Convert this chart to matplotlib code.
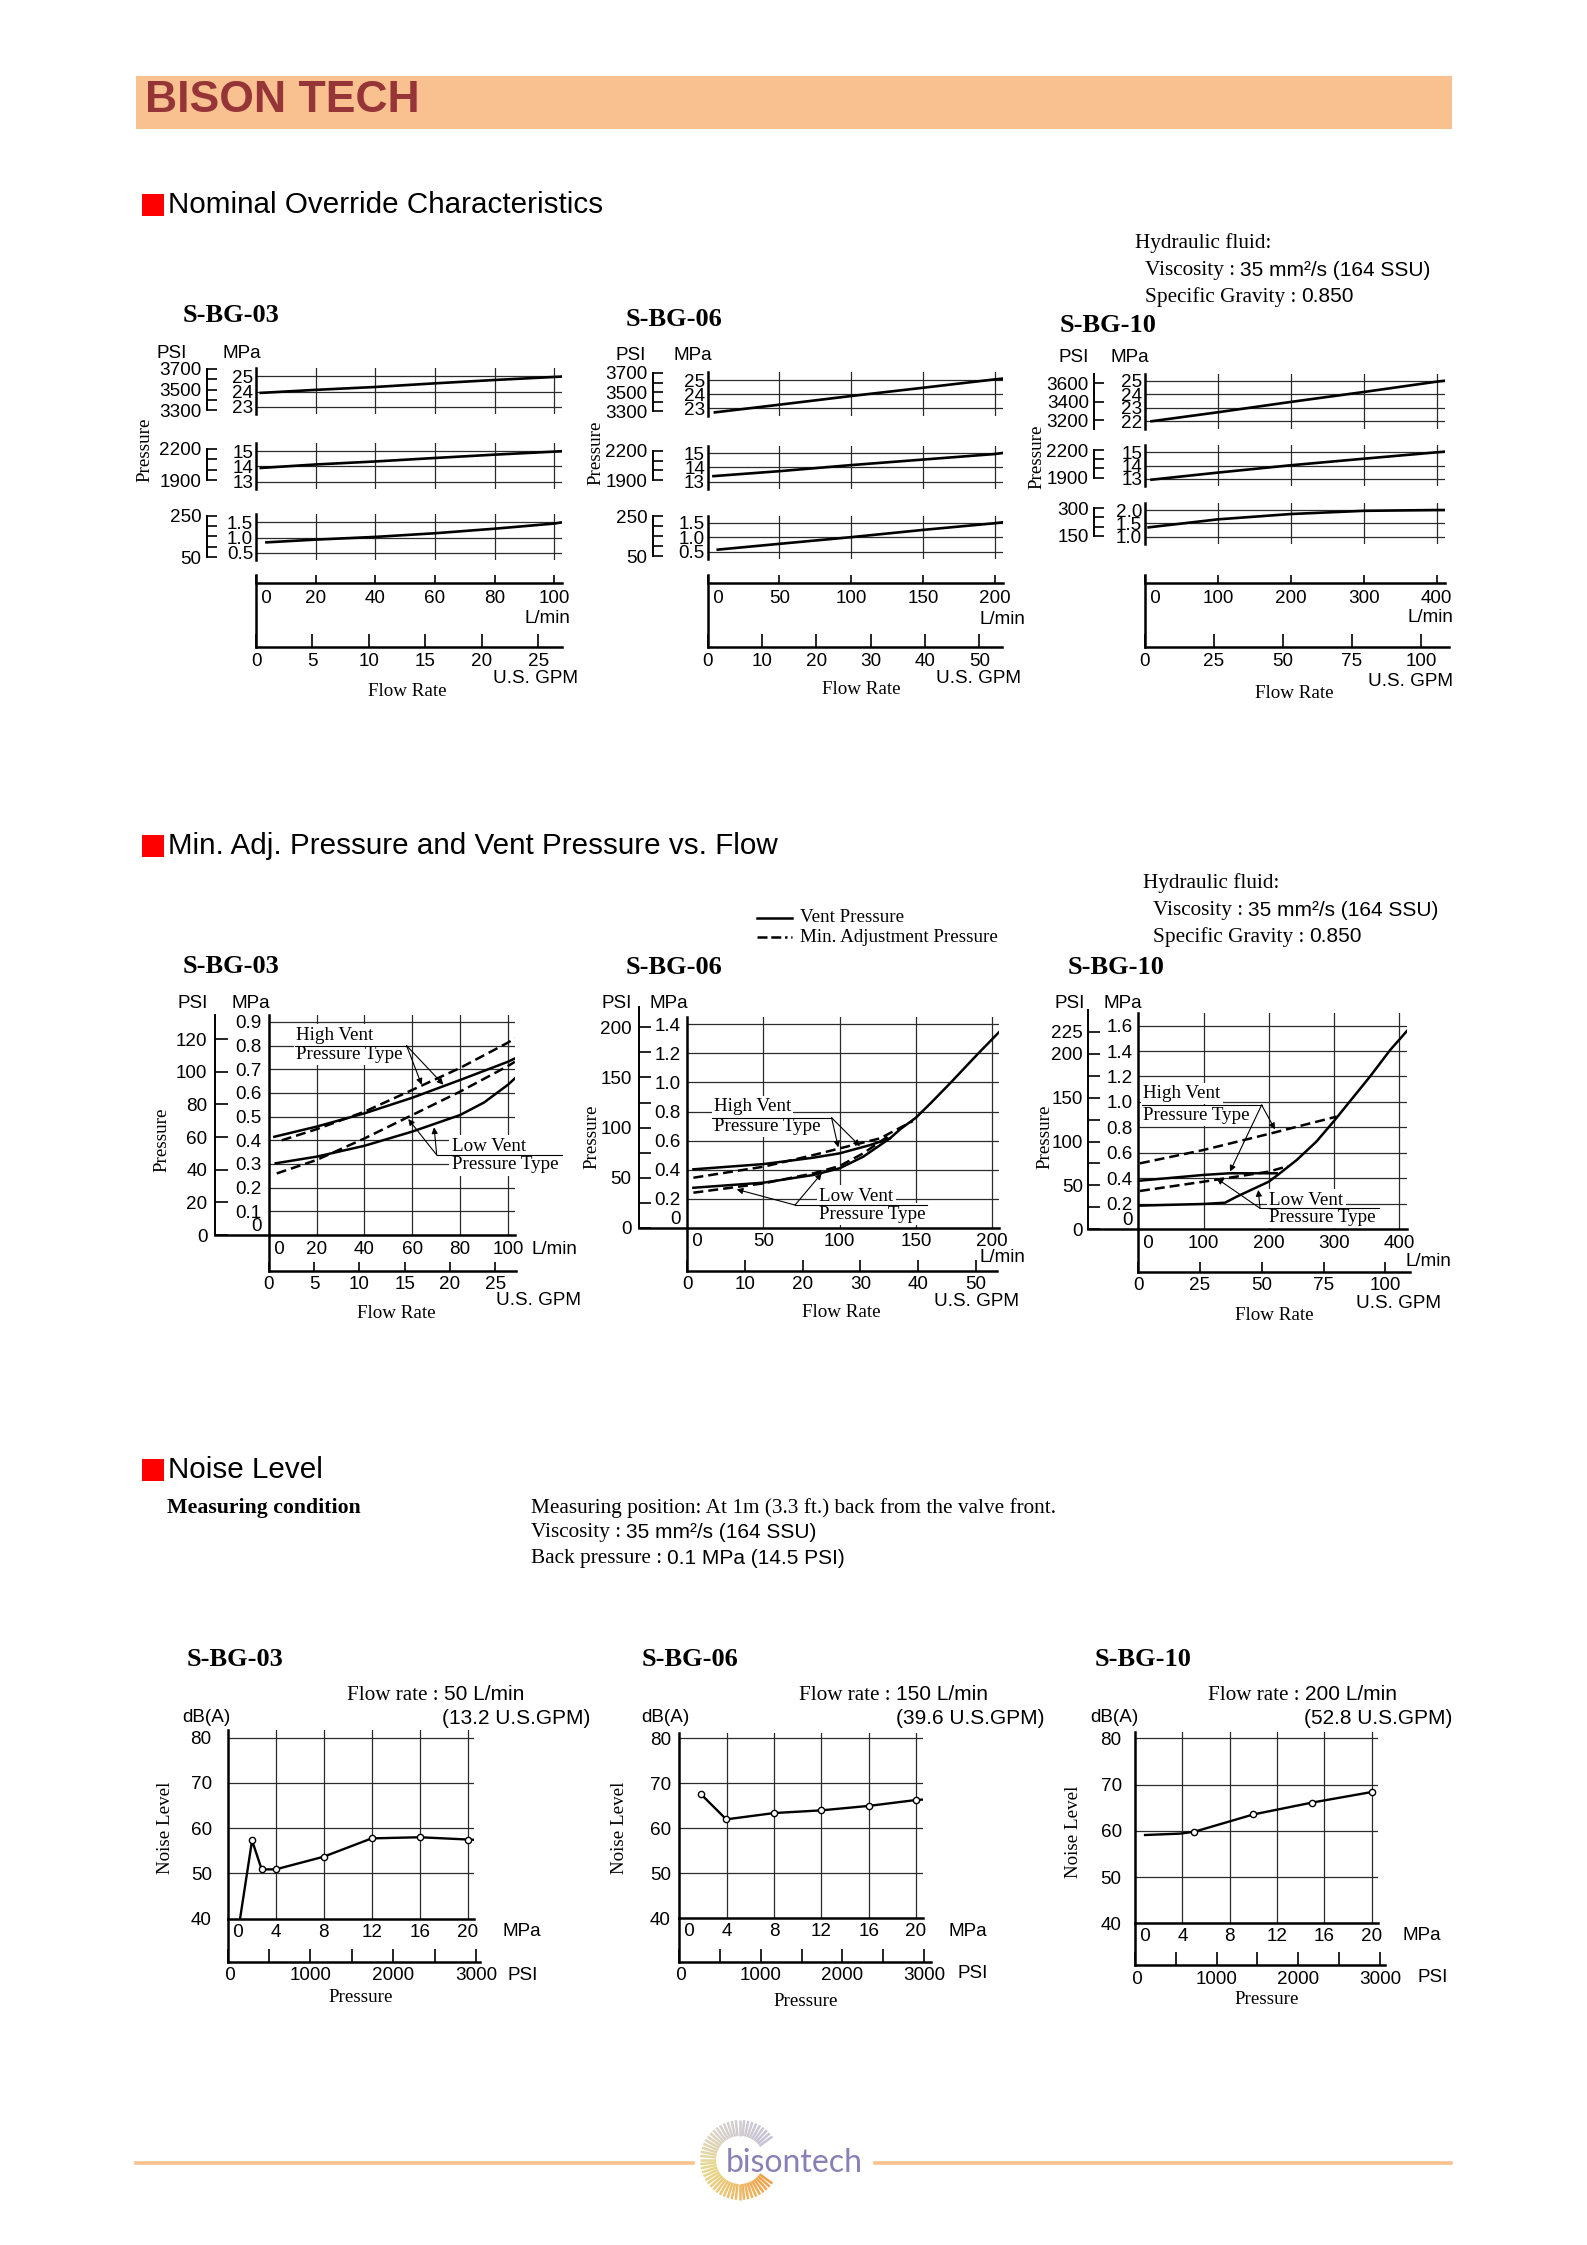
import numpy as np
import matplotlib
matplotlib.use('Agg')
import matplotlib.pyplot as plt
from matplotlib.patches import Rectangle
from matplotlib.lines import Line2D
from matplotlib.collections import LineCollection

SANS = ['Liberation Sans', 'DejaVu Sans']
SERIF = ['Liberation Serif', 'DejaVu Serif']
plt.rcParams['font.family'] = SANS

PSI_PER_MPA = 145.038
L_PER_GAL = 3.78541
GRID = '#2b2b2b'
PEACH = '#F9C190'
LAB = 13.6   # tick label size

# ---------------- data ----------------
# Nominal override characteristics: flow rate (L/min) -> pressure (MPa)
ov03_q_hi = [1.6, 20, 40, 60, 80, 100, 104]
ov03_p_hi = [23.91, 24.11, 24.30, 24.54, 24.76, 24.96, 25.00]
ov03_q_md = [1.6, 20, 40, 60, 80, 100, 104]
ov03_p_md = [13.90, 14.13, 14.33, 14.56, 14.78, 14.98, 15.02]
ov03_q_lo = [3.5, 20, 40, 60, 80, 100, 104]
ov03_p_lo = [0.84, 0.93, 1.02, 1.14, 1.29, 1.46, 1.52]

ov06_q_hi = [5, 50, 100, 150, 200, 205]
ov06_p_hi = [22.69, 23.24, 23.86, 24.45, 25.05, 25.10]
ov06_q_md = [4, 50, 100, 150, 200, 205]
ov06_p_md = [13.39, 13.74, 14.17, 14.56, 14.95, 15.02]
ov06_q_lo = [7, 50, 100, 150, 200, 205]
ov06_p_lo = [0.57, 0.77, 1.00, 1.25, 1.48, 1.51]

ov10_q_hi = [9, 100, 200, 300, 400, 411]
ov10_p_hi = [22.00, 22.67, 23.44, 24.18, 24.95, 25.02]
ov10_q_md = [9, 100, 200, 300, 400, 411]
ov10_p_md = [12.95, 13.48, 14.03, 14.52, 15.00, 15.05]
ov10_q_lo = [5, 100, 200, 300, 400, 411]
ov10_p_lo = [1.35, 1.65, 1.85, 1.97, 2.00, 2.00]

# Min. adj. pressure and vent pressure vs flow (L/min -> MPa)
v03_q_hv = [2.3, 20, 40, 60, 80, 100, 102.9]
v03_p_hv = [0.415, 0.458, 0.514, 0.580, 0.655, 0.732, 0.746]
v03_q_hm = [5.4, 20, 40, 60, 80, 100, 102.9]
v03_p_hm = [0.400, 0.447, 0.521, 0.613, 0.706, 0.813, 0.831]
v03_q_lv = [2.9, 20, 40, 60, 80, 90, 100, 102.9]
v03_p_lv = [0.303, 0.331, 0.377, 0.437, 0.507, 0.560, 0.635, 0.662]
v03_q_lm = [3.3, 20, 40, 60, 80, 100, 102.9]
v03_p_lm = [0.260, 0.317, 0.408, 0.507, 0.606, 0.714, 0.732]

v06_q_hv = [4, 50, 82.7, 100, 120, 133, 140, 150, 160, 173, 191, 207]
v06_p_hv = [0.402, 0.438, 0.482, 0.512, 0.569, 0.615, 0.680, 0.757, 0.860, 1.000, 1.200, 1.372]
v06_q_lv = [4, 50, 82.7, 100, 115.5, 133]
v06_p_lv = [0.275, 0.310, 0.363, 0.409, 0.489, 0.615]
v06_q_hm = [4, 50, 82.7, 100, 126.5, 148]
v06_p_hm = [0.344, 0.420, 0.500, 0.546, 0.615, 0.734]
v06_q_lm = [4, 50, 82.7, 100, 115.5, 133]
v06_p_lm = [0.241, 0.305, 0.374, 0.425, 0.512, 0.638]

v10_q_lv = [2.5, 100, 133, 151, 200, 217, 243, 273, 300, 324, 355, 386, 414]
v10_p_lv = [0.186, 0.199, 0.209, 0.257, 0.374, 0.440, 0.545, 0.689, 0.851, 1.003, 1.199, 1.408, 1.571]
v10_q_hv = [2.5, 100, 140, 212]
v10_p_hv = [0.382, 0.427, 0.440, 0.440]
v10_q_hm = [2.5, 100, 200, 304]
v10_p_hm = [0.518, 0.623, 0.749, 0.885]
v10_q_lm = [2.5, 100, 200, 230]
v10_p_lm = [0.301, 0.374, 0.453, 0.497]

# Noise level: pressure (MPa) -> dB(A); mark = 1 where a measuring point is drawn
n03_p = [1.03, 2.03, 2.83, 4.0, 8.0, 12.0, 16.0, 20.0, 20.5]
n03_db = [40.0, 57.3, 50.9, 50.9, 53.7, 57.75, 58.0, 57.5, 57.45]
n03_mark = [0, 1, 1, 1, 1, 1, 1, 1, 0]
n06_p = [1.83, 3.97, 8.0, 12.0, 16.03, 20.0, 20.6]
n06_db = [67.6, 62.0, 63.4, 64.0, 65.0, 66.3, 66.4]
n06_mark = [1, 1, 1, 1, 1, 1, 0]
n10_p = [0.85, 3.8, 5.0, 10.0, 14.93, 20.0]
n10_db = [59.1, 59.4, 59.8, 63.55, 66.1, 68.4]
n10_mark = [0, 0, 1, 1, 1, 1]

# ---------------- page ----------------
W, H = 1587, 2245
fig = plt.figure(figsize=(W / 100, H / 100), dpi=100)


def box(x0, y0, x1, y1):
    # axes placed in page pixels, y measured from the top
    return fig.add_axes([x0 / W, 1 - y1 / H, (x1 - x0) / W, (y1 - y0) / H])


def bare(ax, keep=(), lw=1.8):
    for name, sp in ax.spines.items():
        sp.set_visible(name in keep)
        sp.set_linewidth(lw)
    ax.patch.set_alpha(0)


def txt(x, y, s, **kw):
    kw.setdefault('va', 'center')
    kw.setdefault('size', LAB)
    return fig.text(x / W, 1 - y / H, s, **kw)


def mixed(x, y, parts):
    r = fig.canvas.get_renderer()
    for s, fam, size in parts:
        t = txt(x, y, s, family=fam, size=size)
        x += t.get_window_extent(r).width + 5


def section(y, label):
    fig.add_artist(Rectangle((142 / W, 1 - (y + 11) / H), 22 / W, 22 / H,
                             transform=fig.transFigure, color='#FF0000', lw=0))
    txt(168, y, label, size=21.3)


def zero_first(labels):
    # the first label sits just right of the vertical axis line
    return [' ' + labels[0]] + labels[1:]


def psi_scale(x, top, bot, mpa_lo, mpa_hi, ticks, labels, tlen, pad, bracket=False):
    pa = box(x, top, x + 1, bot)
    bare(pa, ['left'], lw=1.4)
    pa.set_xticks([])
    pa.set_ylim(mpa_lo * PSI_PER_MPA, mpa_hi * PSI_PER_MPA)
    pa.set_yticks(ticks, labels)
    pa.tick_params(axis='y', direction='in', length=tlen * 0.72, width=1.2,
                   pad=pad, labelsize=LAB)
    if bracket:
        pa.spines['left'].set_bounds(min(ticks), max(ticks))


def override_chart(title, title_xy, units, psi_x, x0, x_full, x_end, g_end,
                   qtick, gticks, panels, pres_xy, flow_xy, lmin_xy, gpm_xy):
    pxq = (x_full - x0) / qtick[-1]
    txt(*title_xy, title, family=SERIF, weight='bold', size=19)
    txt(units[0], units[2], 'PSI', ha='center')
    txt(units[1], units[2], 'MPa', ha='center')
    for top, bot, lo, hi, mt, ml, pt, pl, brk, q, p in panels:
        ax = box(x0, top, x_end, bot)
        bare(ax, ['left'])
        ax.set_xlim(0, (x_end - x0) / pxq)
        ax.set_ylim(lo, hi)
        ax.set_xticks([])
        ax.set_yticks(mt, ml)
        ax.tick_params(axis='y', length=0, pad=2, labelsize=LAB)
        for m in mt:
            ax.axhline(m, color=GRID, lw=0.9, zorder=1)
        for v in qtick[1:]:
            ax.axvline(v, color=GRID, lw=0.9, zorder=1)
        ax.plot(q, p, color='k', lw=1.9, zorder=3)
        psi_scale(psi_x, top, bot, lo, hi, pt, pl, 10, 4, brk)
    al = box(x0, 575, x_end, 582.7)
    bare(al, ['bottom'])
    al.set_xlim(0, (x_end - x0) / pxq)
    al.set_yticks([])
    al.set_xticks(qtick, zero_first([str(v) for v in qtick]))
    al.tick_params(axis='x', direction='in', length=5.5, width=1.2, pad=5, labelsize=LAB)
    al.get_xticklabels()[0].set_ha('left')
    ag = box(x0, 575, g_end, 647)
    bare(ag, ['left', 'bottom'])
    ag.set_xlim(0, (g_end - x0) / pxq / L_PER_GAL)
    ag.set_yticks([])
    ag.set_xticks(gticks, [str(v) for v in gticks])
    ag.tick_params(axis='x', direction='in', length=9.5, width=1.2, pad=4, labelsize=LAB)
    txt(*pres_xy, 'Pressure', family=SERIF, size=13.7, rotation=90, ha='center')
    txt(*flow_xy, 'Flow Rate', family=SERIF, size=13.7, ha='center')
    txt(*lmin_xy, 'L/min', ha='right')
    txt(*gpm_xy, 'U.S. GPM', ha='right')


def callout(ax, tx, ty, lines, ux, uy, origin, targets):
    for s, y in zip(lines, ty):
        ax.text(tx, y, s, family=SERIF, size=13.7, va='center', zorder=4,
                bbox=dict(fc='white', ec='none', pad=1.5))
    ax.plot(ux, [uy, uy], color='k', lw=0.8, clip_on=False, zorder=5)
    for xt, yt in targets:
        ax.annotate('', xy=(xt, yt), xytext=origin, zorder=5,
                    arrowprops=dict(arrowstyle='-|>', color='k', lw=0.8,
                                    mutation_scale=9, shrinkA=0, shrinkB=0))


def vent_chart(title, title_xy, units, psi_x, psi_top, x0, x_full, x_end, y_top, y_axis,
               mpa_top, mt, ml, mpad, pt, pl, ppad, plen, qtick, g_end, g_y, g_len,
               gticks, curves, calls, lmin, gpm_xy, pres_xy, flow_xy):
    pxq = (x_full - x0) / qtick[-1]
    txt(*title_xy, title, family=SERIF, weight='bold', size=19)
    txt(units[0], units[2], 'PSI', ha='center')
    txt(units[1], units[2], 'MPa', ha='center')
    ax = box(x0, y_top, x_end, y_axis)
    bare(ax, ['left', 'bottom'])
    ax.set_xlim(0, (x_end - x0) / pxq)
    ax.set_ylim(0, mpa_top)
    ax.set_xticks(qtick, zero_first([str(v) for v in qtick]))
    ax.set_yticks(mt, ml)
    ax.tick_params(length=0, labelsize=LAB)
    ax.tick_params(axis='x', pad=4)
    ax.tick_params(axis='y', pad=mpad)
    ax.get_xticklabels()[0].set_ha('left')
    ax.get_yticklabels()[0].set_va('bottom')
    for m in mt[1:]:
        ax.axhline(m, color=GRID, lw=0.9, zorder=1)
    for v in qtick[1:]:
        ax.axvline(v, color=GRID, lw=0.9, zorder=1)
    ax.plot([(psi_x - x0) / (x_end - x0), 0], [0, 0], transform=ax.transAxes,
            color='k', lw=1.8, clip_on=False)
    for q, p, dashed in curves:
        ax.plot(q, p, color='k', lw=1.8, ls=(0, (4, 2)) if dashed else '-', zorder=3)
    for c in calls:
        callout(ax, *c)
    psi_scale(psi_x, psi_top, y_axis, 0, mpa_top * (y_axis - psi_top) / (y_axis - y_top),
              pt, pl, plen, ppad)
    ag = box(x0, y_axis, g_end, g_y)
    bare(ag, ['left', 'bottom'])
    ag.set_xlim(0, (g_end - x0) / pxq / L_PER_GAL)
    ag.set_yticks([])
    ag.set_xticks(gticks, [str(v) for v in gticks])
    ag.tick_params(axis='x', direction='in', length=g_len * 0.72, width=1.2, pad=3.5,
                   labelsize=LAB)
    txt(lmin[0], lmin[1], 'L/min', ha=lmin[2])
    txt(*gpm_xy, 'U.S. GPM', ha='right')
    txt(*pres_xy, 'Pressure', family=SERIF, size=13.7, rotation=90, ha='center')
    txt(*flow_xy, 'Flow Rate', family=SERIF, size=13.7, ha='center')


def noise_chart(title, title_xy, flow_xy, flow_val, gpm_txt, gpm_right, db_xy, x0, x_full,
                x_end, y_top, y_axis, db_top, dbpad, psi_end, psi_y, mpa_xy, psi_xy,
                nl_xy, pres_xy, p, db, mark):
    pxm = (x_full - x0) / 20
    txt(*title_xy, title, family=SERIF, weight='bold', size=19)
    mixed(flow_xy[0], flow_xy[1], [('Flow rate :', SERIF, 15.2), (flow_val, SANS, 15)])
    txt(gpm_right, flow_xy[1] + 23, gpm_txt, size=15, ha='right')
    txt(*db_xy, 'dB(A)', ha='center')
    ax = box(x0, y_top, x_end, y_axis)
    bare(ax, ['left', 'bottom'])
    ax.set_xlim(0, (x_end - x0) / pxm)
    ax.set_ylim(40, db_top)
    ax.set_xticks([0, 4, 8, 12, 16, 20], zero_first(['0', '4', '8', '12', '16', '20']))
    ax.set_yticks([40, 50, 60, 70, 80], ['40', '50', '60', '70', '80'])
    ax.tick_params(length=0, labelsize=LAB)
    ax.tick_params(axis='x', pad=3.5)
    ax.tick_params(axis='y', pad=dbpad)
    ax.get_xticklabels()[0].set_ha('left')
    for m in [50, 60, 70, 80]:
        ax.axhline(m, color=GRID, lw=0.9, zorder=1)
    for v in [4, 8, 12, 16, 20]:
        ax.axvline(v, color=GRID, lw=0.9, zorder=1)
    ax.plot(p, db, color='k', lw=1.7, zorder=3)
    mp = [v for v, m in zip(p, mark) if m]
    md = [v for v, m in zip(db, mark) if m]
    ax.plot(mp, md, 'o', ms=4.5, mfc='white', mec='k', mew=1, zorder=4)
    ag = box(x0, y_axis, psi_end, psi_y)
    bare(ag, ['left', 'bottom'])
    ag.set_xlim(0, (psi_end - x0) / pxm * PSI_PER_MPA)
    ag.set_yticks([])
    ag.set_xticks(range(0, 3001, 500), [' 0', '', '1000', '', '2000', '', '3000'])
    ag.tick_params(axis='x', direction='in', length=9.5, width=1.2, pad=4, labelsize=LAB)
    txt(*mpa_xy, 'MPa', ha='center')
    txt(*psi_xy, 'PSI', ha='center')
    txt(*nl_xy, 'Noise Level', family=SERIF, size=13.7, rotation=90, ha='center')
    txt(*pres_xy, 'Pressure', family=SERIF, size=13.7, ha='center')


def fluid_block(x, y):
    txt(x, y, 'Hydraulic fluid:', family=SERIF, size=15.3)
    mixed(x + 10, y + 27, [('Viscosity :', SERIF, 15.3), ('35 mm\u00b2/s (164 SSU)', SANS, 15)])
    mixed(x + 10, y + 54, [('Specific Gravity :', SERIF, 15.3), ('0.850', SANS, 15)])


# header band
fig.add_artist(Rectangle((136 / W, 1 - 129 / H), (1452 - 136) / W, 53 / H,
                         transform=fig.transFigure, color=PEACH, lw=0))
txt(145, 100, 'BISON TECH', size=32, weight='bold', color='#963537')

# ---------------- Nominal override characteristics ----------------
section(205, 'Nominal Override Characteristics')
fluid_block(1135, 243)

P3 = ([3300, 3400, 3500, 3600, 3700], ['3300', '', '3500', '', '3700'])
P2 = ([1900, 2000, 2100, 2200], ['1900', '', '', '2200'])
P1 = ([50, 100, 150, 200, 250], ['50', '', '', '', '250'])
M_HI = ([23, 24, 25], ['23', '24', '25'])
M_MD = ([13, 14, 15], ['13', '14', '15'])
M_LO = ([0.5, 1.0, 1.5], ['0.5', '1.0', '1.5'])

override_chart('S-BG-03', (183, 315), (172, 242, 353), 207, 256, 554.3, 562.3, 562.3,
               [0, 20, 40, 60, 80, 100], [0, 5, 10, 15, 20, 25],
               [(368.3, 414, 22.52, 25.53, *M_HI, *P3, True, ov03_q_hi, ov03_p_hi),
                (443.3, 489.3, 12.49, 15.53, *M_MD, *P2, True, ov03_q_md, ov03_p_md),
                (514, 560, 0.258, 1.775, *M_LO, *P1, True, ov03_q_lo, ov03_p_lo)],
               (145, 450), (407, 691), (570.7, 619), (578.3, 678.3))

override_chart('S-BG-06', (626, 319), (630.5, 693.3, 355.7), 652.7, 707.7, 994.7, 1002.7, 1001.7,
               [0, 50, 100, 150, 200], [0, 10, 20, 30, 40, 50],
               [(371.7, 416, 22.43, 25.6, *M_HI, *P3, True, ov06_q_hi, ov06_p_hi),
                (445.7, 489, 12.48, 15.54, *M_MD, *P2, True, ov06_q_md, ov06_p_md),
                (515.7, 559, 0.247, 1.74, *M_LO, *P1, True, ov06_q_lo, ov06_p_lo)],
               (596, 453), (861, 690), (1025, 619.3), (1020.7, 678.3))

override_chart('S-BG-10', (1060, 326), (1073.8, 1129.5, 357.3), 1094.3, 1145, 1436.7, 1445, 1449.3,
               [0, 100, 200, 300, 400], [0, 25, 50, 75, 100],
               [(374, 429.3, 21.40, 25.52, [22, 23, 24, 25], ['22', '23', '24', '25'],
                 [3200, 3400, 3600], ['3200', '3400', '3600'], False, ov10_q_hi, ov10_p_hi),
                (445.3, 486, 12.475, 15.525, *M_MD, *P2, True, ov10_q_md, ov10_p_md),
                (502.7, 544, 0.725, 2.275, [1.0, 1.5, 2.0], ['1.0', '1.5', '2.0'],
                 [150, 200, 250, 300], ['150', '', '', '300'], True, ov10_q_lo, ov10_p_lo)],
               (1037, 457), (1294, 693), (1453, 617), (1452.7, 682))

# ---------------- Min. adj. pressure and vent pressure ----------------
section(846, 'Min. Adj. Pressure and Vent Pressure vs. Flow')
fluid_block(1143, 883)
fig.add_artist(Line2D([757 / W, 792 / W], [1 - 918 / H] * 2, transform=fig.transFigure,
                      color='k', lw=1.8))
fig.add_artist(Line2D([757 / W, 792 / W], [1 - 937 / H] * 2, transform=fig.transFigure,
                      color='k', lw=1.8, ls=(0, (4, 1.5, 4, 1.5, 1, 1.5))))
txt(800, 918, 'Vent Pressure', family=SERIF, size=13.7)
txt(800, 937, 'Min. Adjustment Pressure', family=SERIF, size=13.7)

HV = ('High Vent', 'Pressure Type')
LV = ('Low Vent', 'Pressure Type')

vent_chart('S-BG-03', (183, 966.5), (193, 250.7, 1003), 215, 1015, 268.8, 508, 515, 1015, 1235,
           0.9295, [0, 0.1, 0.2, 0.3, 0.4, 0.5, 0.6, 0.7, 0.8, 0.9],
           ['0', '0.1', '0.2', '0.3', '0.4', '0.5', '0.6', '0.7', '0.8', '0.9'], 5,
           [0, 20, 40, 60, 80, 100, 120], ['0', '20', '40', '60', '80', '100', '120'], 5.5, 13,
           [0, 20, 40, 60, 80, 100], 516, 1270.7, 9, [0, 5, 10, 15, 20, 25],
           [(v03_q_hv, v03_p_hv, False), (v03_q_hm, v03_p_hm, True),
            (v03_q_lv, v03_p_lv, False), (v03_q_lm, v03_p_lm, True)],
           [(11.4, (0.845, 0.761), HV, [10.9, 57.6], 0.80, (57.6, 0.80),
             [(63.9, 0.635), (73.0, 0.635)]),
            (76.4, (0.376, 0.296), LV, [70.2, 122.4], 0.338, (70.2, 0.338),
             [(58.3, 0.49), (69.1, 0.455)])],
           (531.7, 1249, 'left'), (580.7, 1300.7), (162, 1140), (396.7, 1314))

vent_chart('S-BG-06', (626, 967.5), (616.7, 669.3, 1003), 639.3, 1006.7, 687.3, 992, 999.3,
           1016.7, 1227.7, 1.4528, [0, 0.2, 0.4, 0.6, 0.8, 1.0, 1.2, 1.4],
           ['0', '0.2', '0.4', '0.6', '0.8', '1.0', '1.2', '1.4'], 4.7,
           list(range(0, 201, 25)), ['0', '', '50', '', '100', '', '150', '', '200'], 5.5, 12.3,
           [0, 50, 100, 150, 200], 997.3, 1270.7, 10.7, [0, 10, 20, 30, 40, 50],
           [(v06_q_hv, v06_p_hv, False), (v06_q_lv, v06_p_lv, False),
            (v06_q_hm, v06_p_hm, True), (v06_q_lm, v06_p_lm, True)],
           [(17.5, (0.833, 0.695), HV, [16.4, 94.7], 0.757, (94.7, 0.757),
             [(99.1, 0.553), (113.3, 0.562)]),
            (86.7, (0.218, 0.094), LV, [70.7, 157.1], 0.156, (70.7, 0.156),
             [(32.4, 0.264), (88.2, 0.374)])],
           (1025, 1257.7, 'right'), (1019.3, 1301.7), (592, 1137), (841.7, 1312.7))

vent_chart('S-BG-10', (1068, 967), (1069.3, 1122.7, 1003), 1088.3, 1010, 1138.3, 1399.3, 1406.7,
           1012.7, 1229.3, 1.701, [0, 0.2, 0.4, 0.6, 0.8, 1.0, 1.2, 1.4, 1.6],
           ['0', '0.2', '0.4', '0.6', '0.8', '1.0', '1.2', '1.4', '1.6'], 4,
           list(range(0, 226, 25)), ['0', '', '50', '', '100', '', '150', '', '200', '225'], 4, 11.7,
           [0, 100, 200, 300, 400], 1410, 1271.7, 10, [0, 25, 50, 75, 100],
           [(v10_q_lv, v10_p_lv, False), (v10_q_hv, v10_p_hv, False),
            (v10_q_hm, v10_p_hm, True), (v10_q_lm, v10_p_lm, True)],
           [(7.7, (1.068, 0.893), HV, [5.1, 189], 0.976, (189, 0.976),
             [(140.5, 0.453), (209.4, 0.785)]),
            (200.8, (0.230, 0.094), LV, [186.5, 369.3], 0.165, (186.5, 0.165),
             [(120, 0.40), (183.9, 0.309)])],
           (1451.7, 1261.7, 'right'), (1441, 1303), (1045, 1137), (1274.3, 1315))

# ---------------- Noise level ----------------
section(1470, 'Noise Level')
txt(167, 1508, 'Measuring condition', family=SERIF, weight='bold', size=15.7)
txt(531, 1508, 'Measuring position: At 1m (3.3 ft.) back from the valve front.',
    family=SERIF, size=15.3)
mixed(531, 1533, [('Viscosity :', SERIF, 15.3), ('35 mm\u00b2/s (164 SSU)', SANS, 15)])
mixed(531, 1558, [('Back pressure :', SERIF, 15.3), ('0.1 MPa (14.5 PSI)', SANS, 15)])

noise_chart('S-BG-03', (187, 1660), (347, 1695), '50 L/min', '(13.2 U.S.GPM)', 590, (206, 1717),
            227.7, 467.7, 474, 1730, 1918.7, 81.7, 11.5, 480, 1961.7,
            (522, 1931.7), (523, 1975), (165, 1828), (361, 1998), n03_p, n03_db, n03_mark)
noise_chart('S-BG-06', (642, 1660), (799, 1695), '150 L/min', '(39.6 U.S.GPM)', 1044, (665, 1717),
            679.3, 916, 923.3, 1733, 1918.3, 81.2, 6, 931, 1961.7,
            (968.3, 1931.7), (973, 1973), (620, 1828), (806, 2001), n06_p, n06_db, n06_mark)
noise_chart('S-BG-10', (1095, 1660), (1208, 1695), '200 L/min', '(52.8 U.S.GPM)', 1452, (1114, 1717),
            1135, 1371.7, 1378.3, 1731.7, 1923.3, 81.45, 9.6, 1385, 1965,
            (1422, 1935), (1433, 1978), (1074, 1832), (1267, 1999), n10_p, n10_db, n10_mark)

# ---------------- footer ----------------
for xa, xb in ((136, 693), (875, 1451)):
    fig.add_artist(Line2D([xa / W, xb / W], [1 - 2162.7 / H] * 2, transform=fig.transFigure,
                          color=PEACH, lw=2.6))
lg = box(690, 2110, 790, 2210)
lg.set_xlim(-50, 50)
lg.set_ylim(-50, 50)
lg.set_aspect('equal')
lg.axis('off')
ang = np.radians(np.arange(36, 326, 6))
t = (ang - ang[0]) / (ang[-1] - ang[0])
stops = [0, 0.3, 0.55, 1]
rgb = np.array([[0.78, 0.76, 0.84], [0.84, 0.82, 0.80], [0.91, 0.85, 0.55], [0.95, 0.63, 0.28]])
cols = np.column_stack([np.interp(t, stops, rgb[:, k]) for k in range(3)])
segs = [[(24 * np.cos(a), 24 * np.sin(a)), (40 * np.cos(a), 40 * np.sin(a))] for a in ang]
lg.add_collection(LineCollection(segs, colors=cols, linewidths=1.8))
txt(726, 2163, 'bisontech', family=['Lato', 'DejaVu Sans'], size=23, color='#8A80B6')

fig.savefig('out.png', dpi=100)
